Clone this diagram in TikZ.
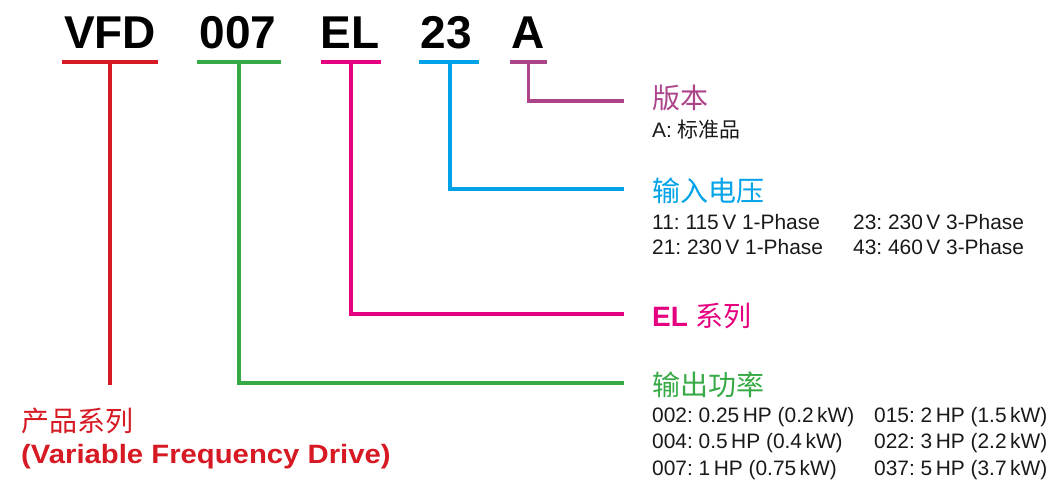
\documentclass[tikz,border=0pt]{standalone}
\usepackage{fontspec}
\setmainfont{Liberation Sans}
\newfontfamily\cjk{Noto Sans CJK SC}
\definecolor{cRed}{RGB}{215,25,35}
\definecolor{cGreen}{RGB}{55,170,70}
\definecolor{cPink}{RGB}{228,0,127}
\definecolor{cBlue}{RGB}{0,162,232}
\definecolor{cPurple}{RGB}{172,68,138}
\definecolor{cText}{RGB}{25,25,25}
\frenchspacing
\begin{document}
\begin{tikzpicture}[x=1pt,y=-1pt]
\tikzset{
  code/.style={font=\fontsize{46}{50}\selectfont\bfseries, inner sep=0pt, anchor=base},
  uline/.style={line width=4pt},
  conn/.style={line width=3.6pt},
  head/.style={font=\fontsize{28}{32}\selectfont, inner sep=0pt, anchor=base west},
  desc/.style={font=\fontsize{20.9}{24}\selectfont, text=cText, inner sep=0pt, anchor=base west},
}
\useasboundingbox (0,0) rectangle (1059,482);
% code letters
\node[code] (vfd) at (110,48) {VFD};
\node[code] (pw)  at (238,48) {007};
\node[code] (ser) at (350,48) {EL};
\node[code] (vin) at (446,48) {23};
\node[code] (ver) at (528.5,48) {A};
% underlines
\draw[uline,cRed]    (62,62) -- (158,62);
\draw[uline,cGreen]  (197,62) -- (281,62);
\draw[uline,cPink]   (321,62) -- (381,62);
\draw[uline,cBlue]   (419,62) -- (479,62);
\draw[uline,cPurple] (510,62) -- (547,62);
\coordinate (uR) at (110,62);
\coordinate (uG) at (239,62);
\coordinate (uK) at (351,62);
\coordinate (uB) at (450,62);
\coordinate (uP) at (528.5,62);
\coordinate (eR) at (110,385);
\coordinate (eP) at (624,101);
\coordinate (eB) at (624,189);
\coordinate (eK) at (624,314);
\coordinate (eG) at (624,383);
% connectors
\draw[conn,cPurple] (uP) |- (eP);
\draw[conn,cBlue]   (uB) |- (eB);
\draw[conn,cPink]   (uK) |- (eK);
\draw[conn,cGreen]  (uG) |- (eG);
\draw[conn,cRed]    (uR) -- (eR);
% version
\node[head,text=cPurple] (hVer) at (652,108) {\cjk 版本};
\node[desc] (dVer) at (652,137) {A: {\cjk 标准品}};
% input voltage
\node[head,text=cBlue] (hVin) at (652,201) {\cjk 输入电压};
\node[desc] (v1) at (652,229.5) {11: 115\,V 1-Phase};
\node[desc] (v2) at (652,254.5) {21: 230\,V 1-Phase};
\node[desc] (v3) at (853,229.5) {23: 230\,V 3-Phase};
\node[desc] (v4) at (853,254.5) {43: 460\,V 3-Phase};
% series
\node[head,text=cPink] (hSer) at (652,326) {\textbf{EL} {\cjk 系列}};
% output power
\node[head,text=cGreen] (hPw) at (652,395) {\cjk 输出功率};
\node[desc] (p1) at (652,422) {002: 0.25\,HP (0.2\,kW)};
\node[desc] (p2) at (652,448.5) {004: 0.5\,HP (0.4\,kW)};
\node[desc] (p3) at (652,475) {007: 1\,HP (0.75\,kW)};
\node[desc] (p4) at (874,422) {015: 2\,HP (1.5\,kW)};
\node[desc] (p5) at (874,448.5) {022: 3\,HP (2.2\,kW)};
\node[desc] (p6) at (874,475) {037: 5\,HP (3.7\,kW)};
% product series
\node[head,text=cRed] (hVfd) at (21,431) {\cjk 产品系列};
\node[head,text=cRed,font=\fontsize{26.5}{30}\selectfont\bfseries] (dVfd) at (21,463.5) {\scalebox{1.105}[1]{(Variable Frequency Drive)}};
\end{tikzpicture}
\end{document}
